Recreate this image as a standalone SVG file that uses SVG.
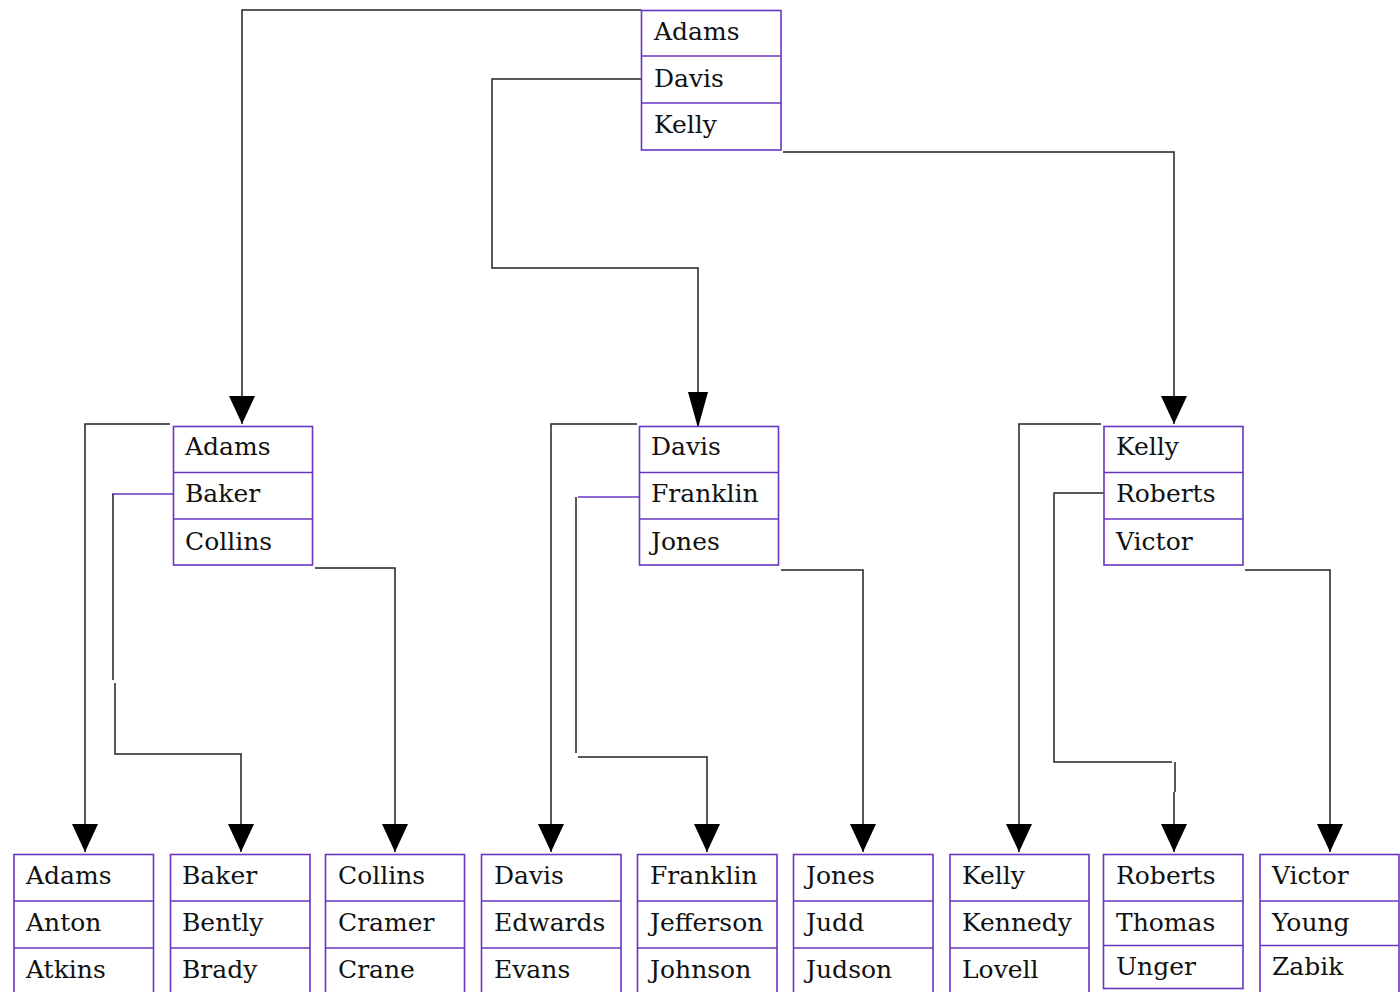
<svg xmlns="http://www.w3.org/2000/svg" width="1400" height="992" viewBox="0 0 1400 992">
  <style>
    .cell { fill: #ffffff; stroke: #6a34c2; stroke-width: 1.6; }
    .div { stroke: #6a34c2; stroke-width: 1.6; }
    .lbl { font-family: 'DejaVu Serif', serif; font-size: 25px; fill: #111111; }
    .wire { fill: none; stroke: #222222; stroke-width: 1.5; }
    .wire-p { fill: none; stroke: #6a34c2; stroke-width: 1.5; }
  </style>
  <defs>
    <marker id="arrow" markerUnits="userSpaceOnUse" markerWidth="28" markerHeight="26" refX="28" refY="13" orient="auto">
      <path d="M0,0 L28,13 L0,26 z" fill="#000000"/>
    </marker>
    <marker id="arrow-long" markerUnits="userSpaceOnUse" markerWidth="36" markerHeight="20" refX="36" refY="10" orient="auto">
      <path d="M0,0 L36,10 L0,20 z" fill="#000000"/>
    </marker>
  </defs>
  <rect width="1400" height="992" fill="#ffffff"/>

  <!-- connectors -->
  <g id="connectors">
    <path class="wire" d="M641,10 H242 V424" marker-end="url(#arrow)"/>
    <path class="wire" d="M641,79 H492 V268 H698 V428" marker-end="url(#arrow-long)"/>
    <path class="wire" d="M783,152 H1174 V424" marker-end="url(#arrow)"/>

    <path class="wire" d="M170,424 H85 V852" marker-end="url(#arrow)"/>
    <path class="wire-p" d="M173,494 H112"/>
    <path class="wire" d="M113,494 V680"/>
    <path class="wire" d="M115,683 V754 H241 V852" marker-end="url(#arrow)"/>
    <path class="wire" d="M315,568 H395 V852" marker-end="url(#arrow)"/>

    <path class="wire" d="M637,424 H551 V852" marker-end="url(#arrow)"/>
    <path class="wire-p" d="M639,497 H578"/>
    <path class="wire" d="M576,497 V753"/>
    <path class="wire" d="M578,757 H707 V852" marker-end="url(#arrow)"/>
    <path class="wire" d="M781,570 H863 V852" marker-end="url(#arrow)"/>

    <path class="wire" d="M1101,424 H1019 V852" marker-end="url(#arrow)"/>
    <path class="wire" d="M1105,493 H1054 V762 H1172"/>
    <path class="wire" d="M1175,762 V792"/>
    <path class="wire" d="M1174,792 V852" marker-end="url(#arrow)"/>
    <path class="wire" d="M1245,570 H1330 V852" marker-end="url(#arrow)"/>
  </g>

  <!-- root -->
  <g id="root">
    <rect class="cell" x="641.5" y="10.5" width="139.5" height="139.5"/>
    <line class="div" x1="641.5" y1="56" x2="781" y2="56"/>
    <line class="div" x1="641.5" y1="103" x2="781" y2="103"/>
    <text class="lbl" x="654" y="40">Adams</text>
    <text class="lbl" x="654" y="87">Davis</text>
    <text class="lbl" x="654" y="133">Kelly</text>
  </g>

  <!-- second level -->
  <g id="mid-adams">
    <rect class="cell" x="173.5" y="426.5" width="139" height="138.5"/>
    <line class="div" x1="173.5" y1="472.5" x2="312.5" y2="472.5"/>
    <line class="div" x1="173.5" y1="519" x2="312.5" y2="519"/>
    <text class="lbl" x="185" y="455">Adams</text>
    <text class="lbl" x="185" y="502">Baker</text>
    <text class="lbl" x="185" y="550">Collins</text>
  </g>
  <g id="mid-davis">
    <rect class="cell" x="639.5" y="426.5" width="139" height="138.5"/>
    <line class="div" x1="639.5" y1="472.5" x2="778.5" y2="472.5"/>
    <line class="div" x1="639.5" y1="519" x2="778.5" y2="519"/>
    <text class="lbl" x="651" y="455">Davis</text>
    <text class="lbl" x="651" y="502">Franklin</text>
    <text class="lbl" x="651" y="550">Jones</text>
  </g>
  <g id="mid-kelly">
    <rect class="cell" x="1104" y="426.5" width="139" height="138.5"/>
    <line class="div" x1="1104" y1="472.5" x2="1243" y2="472.5"/>
    <line class="div" x1="1104" y1="519" x2="1243" y2="519"/>
    <text class="lbl" x="1116" y="455">Kelly</text>
    <text class="lbl" x="1116" y="502">Roberts</text>
    <text class="lbl" x="1116" y="550">Victor</text>
  </g>

  <!-- leaves -->
  <g id="leaf-adams">
    <rect class="cell" x="14" y="854.5" width="139.5" height="150"/>
    <line class="div" x1="14" y1="901" x2="153.5" y2="901"/>
    <line class="div" x1="14" y1="948" x2="153.5" y2="948"/>
    <text class="lbl" x="26" y="884">Adams</text>
    <text class="lbl" x="26" y="931">Anton</text>
    <text class="lbl" x="26" y="978">Atkins</text>
  </g>
  <g id="leaf-baker">
    <rect class="cell" x="170.5" y="854.5" width="139.5" height="150"/>
    <line class="div" x1="170.5" y1="901" x2="310" y2="901"/>
    <line class="div" x1="170.5" y1="948" x2="310" y2="948"/>
    <text class="lbl" x="182" y="884">Baker</text>
    <text class="lbl" x="182" y="931">Bently</text>
    <text class="lbl" x="182" y="978">Brady</text>
  </g>
  <g id="leaf-collins">
    <rect class="cell" x="325.5" y="854.5" width="139" height="150"/>
    <line class="div" x1="325.5" y1="901" x2="464.5" y2="901"/>
    <line class="div" x1="325.5" y1="948" x2="464.5" y2="948"/>
    <text class="lbl" x="338" y="884">Collins</text>
    <text class="lbl" x="338" y="931">Cramer</text>
    <text class="lbl" x="338" y="978">Crane</text>
  </g>
  <g id="leaf-davis">
    <rect class="cell" x="481.5" y="854.5" width="139.5" height="150"/>
    <line class="div" x1="481.5" y1="901" x2="621" y2="901"/>
    <line class="div" x1="481.5" y1="948" x2="621" y2="948"/>
    <text class="lbl" x="494" y="884">Davis</text>
    <text class="lbl" x="494" y="931">Edwards</text>
    <text class="lbl" x="494" y="978">Evans</text>
  </g>
  <g id="leaf-franklin">
    <rect class="cell" x="637.5" y="854.5" width="139.5" height="150"/>
    <line class="div" x1="637.5" y1="901" x2="777" y2="901"/>
    <line class="div" x1="637.5" y1="948" x2="777" y2="948"/>
    <text class="lbl" x="650" y="884">Franklin</text>
    <text class="lbl" x="650" y="931">Jefferson</text>
    <text class="lbl" x="650" y="978">Johnson</text>
  </g>
  <g id="leaf-jones">
    <rect class="cell" x="793.5" y="854.5" width="139.5" height="150"/>
    <line class="div" x1="793.5" y1="901" x2="933" y2="901"/>
    <line class="div" x1="793.5" y1="948" x2="933" y2="948"/>
    <text class="lbl" x="806" y="884">Jones</text>
    <text class="lbl" x="806" y="931">Judd</text>
    <text class="lbl" x="806" y="978">Judson</text>
  </g>
  <g id="leaf-kelly">
    <rect class="cell" x="950" y="854.5" width="139" height="150"/>
    <line class="div" x1="950" y1="901" x2="1089" y2="901"/>
    <line class="div" x1="950" y1="948" x2="1089" y2="948"/>
    <text class="lbl" x="962" y="884">Kelly</text>
    <text class="lbl" x="962" y="931">Kennedy</text>
    <text class="lbl" x="962" y="978">Lovell</text>
  </g>
  <g id="leaf-roberts">
    <rect class="cell" x="1103.5" y="854.5" width="139.5" height="134"/>
    <line class="div" x1="1103.5" y1="901" x2="1243" y2="901"/>
    <line class="div" x1="1103.5" y1="945.5" x2="1243" y2="945.5"/>
    <text class="lbl" x="1116" y="884">Roberts</text>
    <text class="lbl" x="1116" y="931">Thomas</text>
    <text class="lbl" x="1116" y="975">Unger</text>
  </g>
  <g id="leaf-victor">
    <rect class="cell" x="1260" y="854.5" width="139" height="150"/>
    <line class="div" x1="1260" y1="901" x2="1399" y2="901"/>
    <line class="div" x1="1260" y1="945.5" x2="1399" y2="945.5"/>
    <text class="lbl" x="1272" y="884">Victor</text>
    <text class="lbl" x="1272" y="931">Young</text>
    <text class="lbl" x="1272" y="975">Zabik</text>
  </g>
</svg>
